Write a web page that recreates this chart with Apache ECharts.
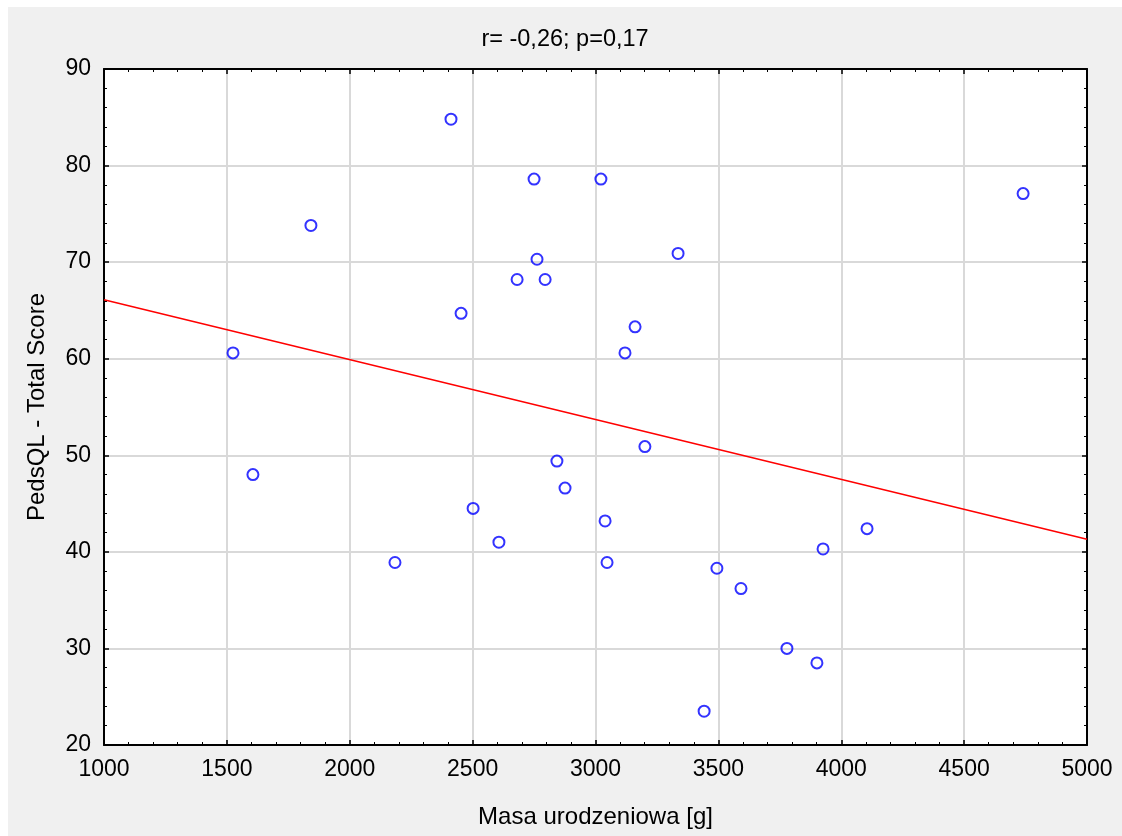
<!DOCTYPE html>
<html>
<head>
<meta charset="utf-8">
<script src="https://cdn.jsdelivr.net/npm/echarts@6/dist/echarts.min.js"></script>
<style>
  html, body { margin: 0; padding: 0; background: #ffffff; }
  #chart { position: absolute; left: 8px; top: 7px; width: 1114px; height: 829px; }
</style>
</head>
<body>
<div id="chart"></div>
<script>
// birth weight [g] and PedsQL total score
const birthWeight = [
  1525, 1606, 1842, 2184, 2412, 2453, 2502, 2607, 2681, 2750,
  2762, 2795, 2843, 2876, 3022, 3039, 3047, 3120, 3161, 3201,
  3336, 3442, 3494, 3592, 3779, 3901, 3926, 4105, 4740
];
const totalScore = [
  60.6, 48.0, 73.8, 38.9, 84.8, 64.7, 44.5, 41.0, 68.2, 78.6,
  70.3, 68.2, 49.4, 46.6, 78.6, 43.2, 38.9, 60.6, 63.3, 50.9,
  70.9, 23.5, 38.3, 36.2, 30.0, 28.5, 40.3, 42.4, 77.1
];
// fitted line end points
const fitX = [1000, 5000];
const fitY = [66.1, 41.3];

const titleText = "r= -0,26; p=0,17";
const xName = "Masa urodzeniowa [g]";
const yName = "PedsQL - Total Score";

const chart = echarts.init(document.getElementById("chart"));

const font = "Liberation Sans, Arial, sans-serif";
const frameAxis = {
  axisLine: { show: true, lineStyle: { color: "#000", width: 2 } },
  axisTick: { show: true, inside: true, length: 5, lineStyle: { color: "#000", width: 1.5 } },
  minorTick: { show: true, splitNumber: 5, length: 3, lineStyle: { color: "#000", width: 1 } },
};
const tickLabel = { fontFamily: font, fontSize: 23, color: "#000", margin: 13, formatter: (v) => String(v) };
const nameStyle = { fontFamily: font, fontSize: 24, color: "#000" };

const option = {
  backgroundColor: "#f0f0f0",
  animation: false,
  title: {
    text: titleText,
    left: "center",
    top: 16,
    textStyle: { fontFamily: font, fontSize: 23.5, fontWeight: "normal", color: "#000" },
  },
  grid: { left: 96, right: 35, top: 62, bottom: 91, backgroundColor: "#fff", show: true, borderWidth: 0 },
  xAxis: [
    {
      type: "value", min: 1000, max: 5000, interval: 500,
      name: xName, nameLocation: "middle", nameGap: 60, nameTextStyle: nameStyle,
      axisLabel: tickLabel,
      splitLine: { show: true, lineStyle: { color: "#d9d9d9", width: 2 } },
      ...frameAxis,
    },
    {
      type: "value", position: "top", min: 1000, max: 5000, interval: 500,
      axisLabel: { show: false }, splitLine: { show: false },
      ...frameAxis,
    },
  ],
  yAxis: [
    {
      type: "value", min: 20, max: 90, interval: 10,
      name: yName, nameLocation: "middle", nameGap: 55, nameTextStyle: nameStyle,
      axisLabel: tickLabel,
      splitLine: { show: true, lineStyle: { color: "#d9d9d9", width: 2 } },
      ...frameAxis,
    },
    {
      type: "value", position: "right", min: 20, max: 90, interval: 10,
      axisLabel: { show: false }, splitLine: { show: false },
      ...frameAxis,
    },
  ],
  series: [
    {
      type: "line",
      data: fitX.map((x, i) => [x, fitY[i]]),
      showSymbol: false,
      lineStyle: { color: "#ff0000", width: 1.5 },
      silent: true,
      z: 2,
    },
    {
      type: "scatter",
      data: birthWeight.map((x, i) => [x, totalScore[i]]),
      symbol: "circle",
      symbolSize: 11,
      itemStyle: { color: "rgba(255,255,255,0)", borderColor: "#0000ff", borderWidth: 2 },
      z: 3,
    },
  ],
};

chart.setOption(option);
</script>
</body>
</html>
